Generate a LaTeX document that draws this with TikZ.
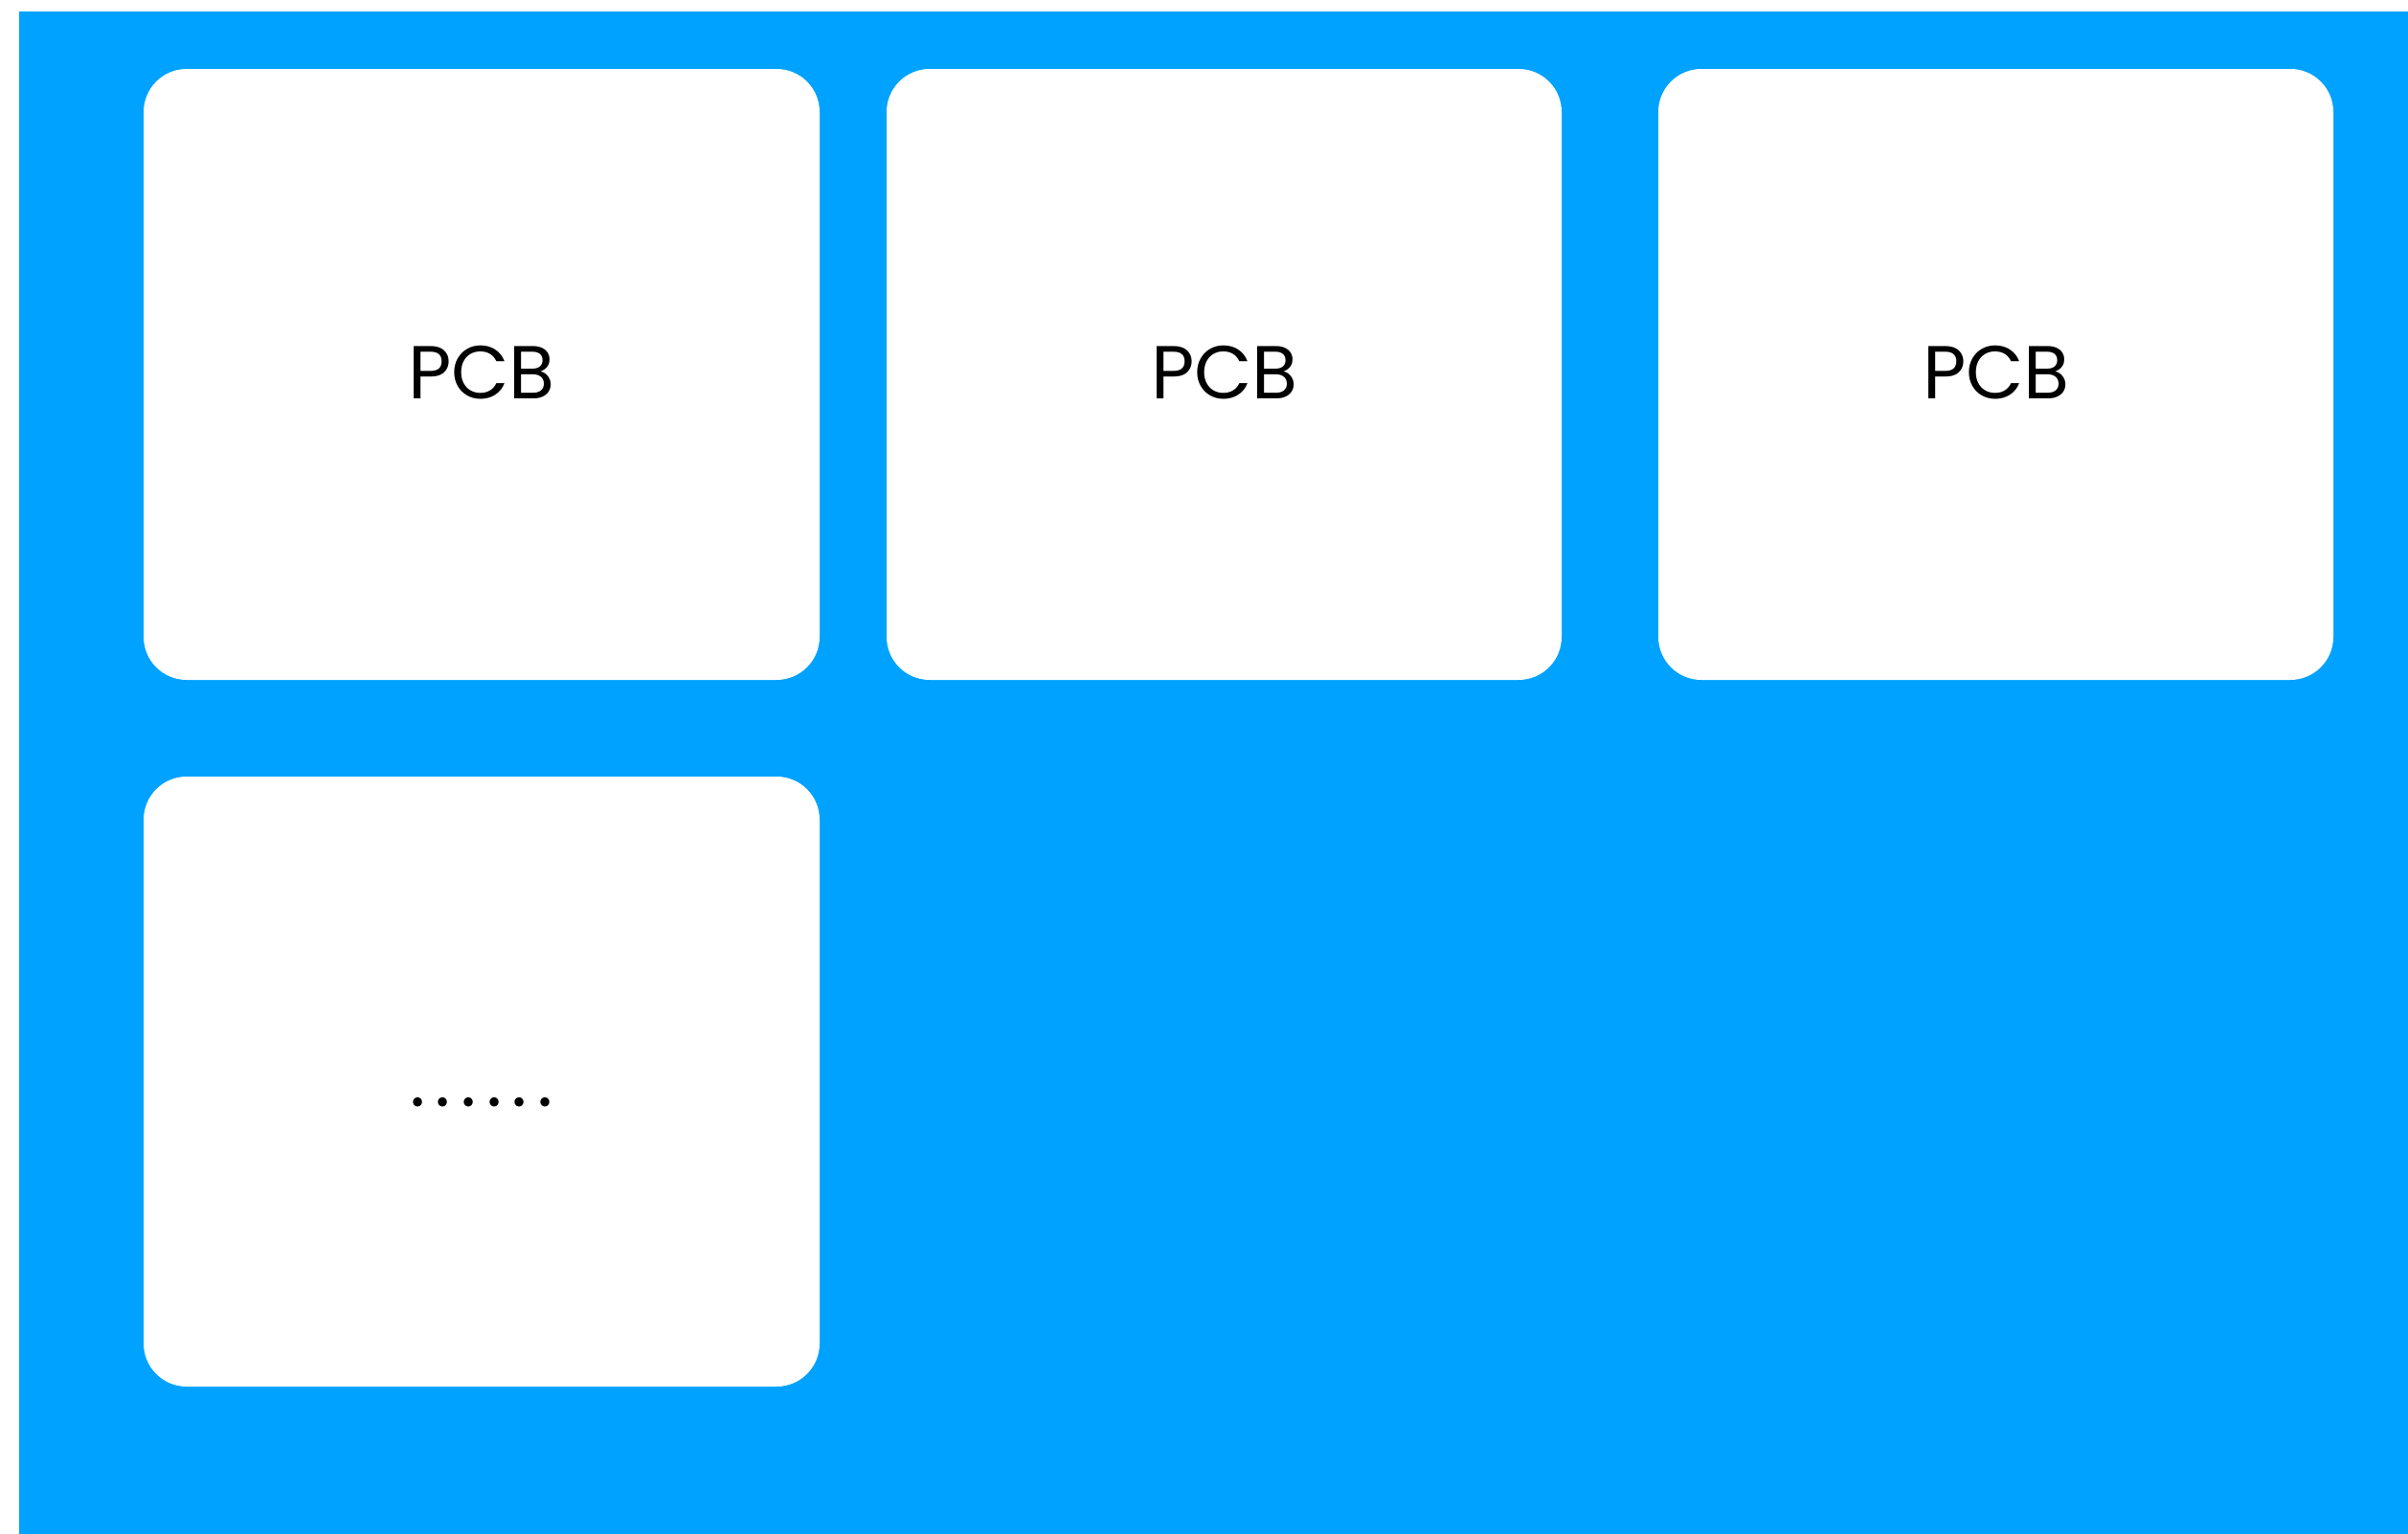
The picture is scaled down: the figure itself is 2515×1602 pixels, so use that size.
\documentclass[tikz,border=0pt]{standalone}
\usepackage{fontspec}
\setmainfont{Poppins}
\definecolor{bgblue}{RGB}{0,162,255}
\newcommand{\dotcell}{\makebox[8pt]{.}}
\begin{document}
\begin{tikzpicture}[x=0.3pt,y=-0.3pt,
  card/.style={fill=white, rounded corners=13.5pt},
  lbl/.style={font=\fontsize{23.5}{28}\selectfont, text=black, anchor=base, inner sep=0pt},
  dots/.style={font=\fontsize{23}{27}\selectfont, text=black, anchor=base, inner sep=0pt}]
\useasboundingbox (0,0) rectangle (2515,1602);
\fill[bgblue] (20,12) rectangle (2515,1602);
\fill[card] (150,72) rectangle (856,710);
\fill[card] (926,72) rectangle (1631,710);
\fill[card] (1732,72) rectangle (2437,710);
\fill[card] (150,811) rectangle (856,1448);
\node[lbl] (p1) at (503,416) {PCB};
\node[lbl] (p2) at (1279,416) {PCB};
\node[lbl] (p3) at (2085,416) {PCB};
\node[dots] (more) at (503,1155) {\dotcell\dotcell\dotcell\dotcell\dotcell\dotcell};
\end{tikzpicture}
\end{document}
